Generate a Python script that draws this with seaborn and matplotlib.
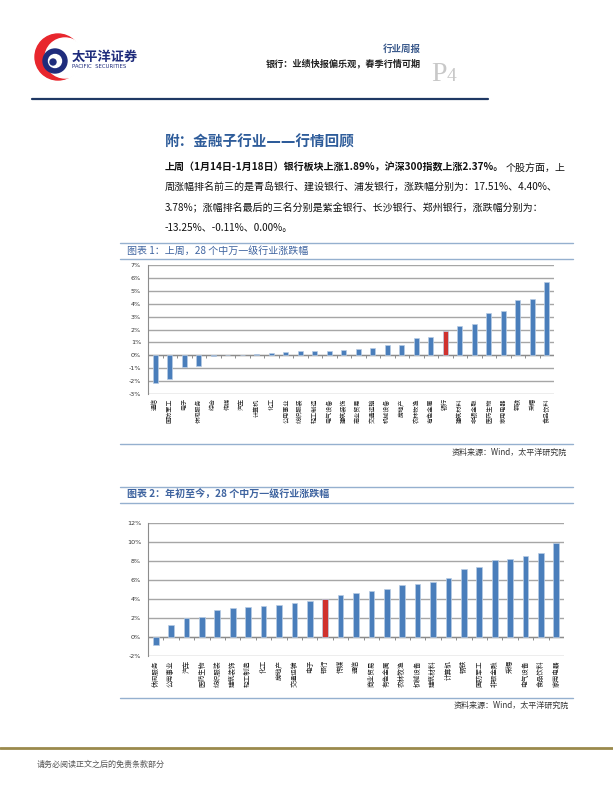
import numpy as np
import pandas as pd
import matplotlib
matplotlib.use("Agg")
import matplotlib.pyplot as plt
import matplotlib.patches as mpatches
from matplotlib.ticker import FuncFormatter
import seaborn as sns

# --- Data ---
week_labels = ["通信", "国防军工", "电子", "休闲服务", "综合", "传媒", "汽车", "计算机", "化工",
               "公用事业", "纺织服装", "轻工制造", "电气设备", "建筑装饰", "商业贸易", "交通运输",
               "机械设备", "房地产", "农林牧渔", "有色金属", "银行", "建筑材料", "非银金融",
               "医药生物", "家用电器", "钢铁", "采掘", "食品饮料"]
week_values = [-2.12, -1.87, -0.93, -0.86, -0.05, -0.01, 0.01, 0.13, 0.14,
               0.26, 0.31, 0.34, 0.35, 0.39, 0.47, 0.57, 0.76, 0.83, 1.33, 1.38,
               1.89, 2.29, 2.45, 3.28, 3.41, 4.27, 4.35, 5.68]

ytd_labels = ["休闲服务", "公用事业", "汽车", "医药生物", "纺织服装", "建筑装饰", "轻工制造", "化工",
              "房地产", "交通运输", "电子", "银行", "传媒", "通信", "商业贸易", "有色金属",
              "农林牧渔", "机械设备", "建筑材料", "计算机", "钢铁", "国防军工", "非银金融",
              "采掘", "电气设备", "食品饮料", "家用电器"]
ytd_values = [-0.88, 1.26, 2.03, 2.14, 2.80, 3.09, 3.16, 3.30, 3.37, 3.58, 3.75, 4.00,
              4.39, 4.67, 4.80, 5.05, 5.44, 5.54, 5.79, 6.21, 7.19, 7.40, 8.10, 8.25,
              8.56, 8.80, 9.86]

week_ticks = [-3, -2, -1, 0, 1, 2, 3, 4, 5, 6, 7]
ytd_ticks = [-2, 0, 2, 4, 6, 8, 10, 12]

highlight = "银行"
BLUE = "#4A7EBB"
RED = "#D0312D"

sns.set_style("white")
plt.rcParams['font.family'] = ['Noto Sans CJK SC', 'DejaVu Sans']

W, H = 613, 793
fig = plt.figure(figsize=(W / 100, H / 100), dpi=100)

# page overlay in pixel coordinates
bg = fig.add_axes([0, 0, 1, 1])
bg.set_xlim(0, W)
bg.set_ylim(H, 0)
bg.axis("off")


def box(l, t, r, b):
    return [l / W, 1 - b / H, (r - l) / W, (b - t) / H]


# --- Header ---
bg.add_patch(mpatches.Circle((58, 57), 23, color="#E8262D"))
bg.add_patch(mpatches.Circle((65, 58), 20, color="white"))
bg.add_patch(mpatches.Circle((55, 61), 12, color="#1F2C7C"))
bg.add_patch(mpatches.Circle((55, 61), 6.5, color="white"))
bg.add_patch(mpatches.Circle((53, 62), 3, color="#1F2C7C"))
bg.text(72, 57, "太平洋证券", fontsize=9.5, fontweight="bold", color="#1F2C7C", va="center")
bg.text(72, 67, "PACIFIC  SECURITIES", fontsize=3.9, color="#1F2C7C", va="center",
        family="DejaVu Sans")
bg.text(421, 49, "行业周报", fontsize=6.8, fontweight="bold", color="#3B5A8C", ha="right", va="center")
bg.text(421, 63, "银行：业绩快报偏乐观，春季行情可期", fontsize=6.6, fontweight="bold",
        color="#222222", ha="right", va="center")
bg.text(431, 81, "P", fontsize=20, color="#C8C8C8", family="Liberation Serif", va="baseline")
bg.text(447, 81, "4", fontsize=14, color="#C8C8C8", family="Liberation Serif", va="baseline")
bg.plot([32, 488], [99, 99], color="#1F3864", lw=1.6)

# --- Section title and paragraph ---
bg.text(165, 142, "附：金融子行业——行情回顾", fontsize=10.5, fontweight="bold",
        color="#2E5C9A", va="center", family=["DejaVu Sans", "Noto Sans CJK SC"])

fs = 7.2
t1 = bg.text(165, 168, "上周（1月14日-1月18日）银行板块上涨1.89%，沪深300指数上涨2.37%。",
             fontsize=fs, fontweight="bold", color="#111111", va="center")
renderer = fig.canvas.get_renderer()
ext = t1.get_window_extent(renderer=renderer)
bg.text(ext.x1 + 1, 168, "个股方面，上", fontsize=fs, color="#111111", va="center")
bg.text(165, 188, "周涨幅排名前三的是青岛银行、建设银行、浦发银行，涨跌幅分别为：17.51%、4.40%、",
        fontsize=fs, color="#111111", va="center")
bg.text(165, 208, "3.78%；涨幅排名最后的三名分别是紫金银行、长沙银行、郑州银行，涨跌幅分别为：",
        fontsize=fs, color="#111111", va="center")
bg.text(165, 228, "-13.25%、-0.11%、0.00%。", fontsize=fs, color="#111111", va="center")

# --- Frames and captions ---
frame_col = "#95B0CF"
for y in [243, 259, 444, 487, 503, 698]:
    bg.plot([120, 573], [y, y], color=frame_col, lw=1.0)
bg.text(127, 251, "图表 1：上周，28 个中万一级行业涨跌幅", fontsize=7.2, color="#3F64A0", va="center")
bg.text(127, 495, "图表 2：年初至今，28 个中万一级行业涨跌幅", fontsize=7.2, fontweight="bold",
        color="#3F64A0", va="center")
bg.text(567, 452, "资料来源：Wind，太平洋研究院", fontsize=5.8, color="#333333", ha="right",
        va="center", style="italic")
bg.text(569, 705, "资料来源：Wind，太平洋研究院", fontsize=5.8, color="#333333", ha="right",
        va="center", style="italic")

# --- Footer ---
bg.plot([0, W], [748, 748], color="#9A8A4C", lw=2)
bg.text(37, 764, "请务必阅读正文之后的免责条款部分", fontsize=5.8, color="#555555", va="center")


def draw_bars(ax, labels, values, ticks, bw, lab_size):
    df = pd.DataFrame({"行业": labels, "涨跌幅": values})
    pal = {c: (RED if c == highlight else BLUE) for c in labels}
    sns.barplot(data=df, x="行业", y="涨跌幅", hue="行业", palette=pal, legend=False,
                width=bw, edgecolor="#B8CCE4", linewidth=0.5, saturation=1, ax=ax, zorder=3)
    n = len(labels)
    ax.set_xlim(-0.5, n - 0.5)
    ax.set_ylim(ticks[0], ticks[-1])
    ax.set_yticks(ticks)
    ax.yaxis.set_major_formatter(FuncFormatter(lambda v, p: f"{v:.0f}%"))
    ax.yaxis.grid(True, color="#A6A6A6", lw=1.0, zorder=0)
    ax.set_axisbelow(True)
    ax.axhline(0, color="#8C8C8C", lw=0.9, zorder=2)
    tl = (ticks[-1] - ticks[0]) * 3.0 / (ax.bbox.height)
    ax.vlines(np.arange(n + 1) - 0.5, -tl, 0, color="#8C8C8C", lw=0.7, zorder=2)
    ax.set_xticks(range(n))
    ax.set_xticklabels(labels, rotation=90, fontsize=lab_size, color="#222222")
    ax.tick_params(axis="x", length=0, pad=3)
    ax.tick_params(axis="y", length=3, width=0.7, color="#8C8C8C", labelsize=4.6,
                   labelcolor="#333333", pad=2)
    for s in ["top", "right", "bottom"]:
        ax.spines[s].set_visible(False)
    ax.spines["left"].set_color("#8C8C8C")
    ax.spines["left"].set_linewidth(0.8)
    ax.set_xlabel("")
    ax.set_ylabel("")
    ax.patch.set_alpha(0)
    for lab in ax.get_yticklabels():
        lab.set_family("DejaVu Sans")


ax1 = fig.add_axes(box(148, 265, 554, 394))
draw_bars(ax1, week_labels, week_values, week_ticks, 0.34, 4.4)

ax2 = fig.add_axes(box(148, 523, 564, 656))
draw_bars(ax2, ytd_labels, ytd_values, ytd_ticks, 0.37, 4.8)

fig.savefig("out.png", dpi=100)
